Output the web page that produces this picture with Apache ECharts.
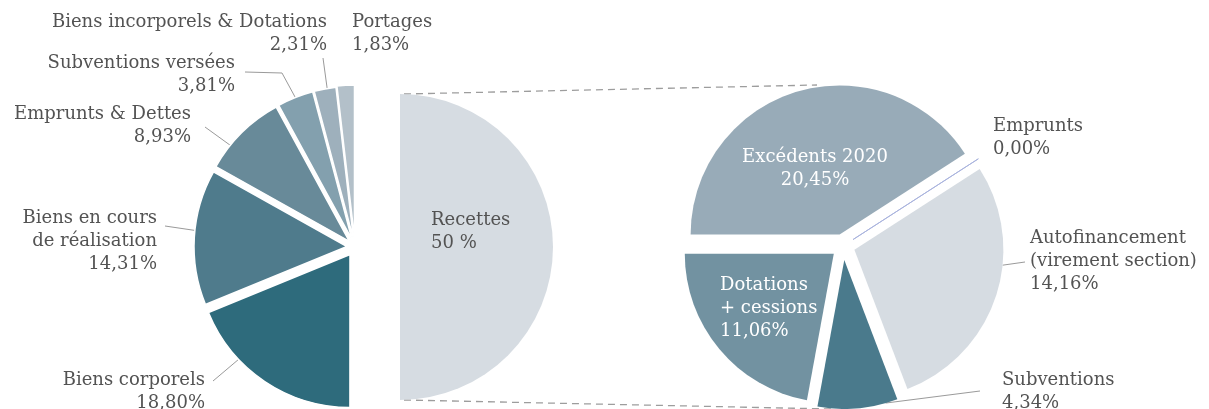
<!DOCTYPE html>
<html>
<head>
<meta charset="utf-8">
<script src="https://cdn.jsdelivr.net/npm/echarts@6/dist/echarts.min.js"></script>
<style>
  html, body { margin: 0; padding: 0; background: #fff; }
  #chart { width: 1209px; height: 409px; }
</style>
</head>
<body>
<div id="chart"></div>
<script>
// spending side (left pie), counter-clockwise from the top
const depenseNames = ['Portages', 'Biens incorporels & Dotations', 'Subventions versées', 'Emprunts & Dettes', 'Biens en cours\nde réalisation', 'Biens corporels'];
const depenseValues = [1.83, 2.31, 3.81, 8.93, 14.31, 18.80];

// the receipts half
const recetteLabel = 'Recettes';
const recetteShare = 50;

// receipts breakdown (right pie), clockwise from 9 o'clock
const detailNames = ['Excédents 2020', 'Emprunts', 'Autofinancement\n(virement section)', 'Subventions', 'Dotations\n+ cessions'];
const detailValues = [20.45, 0.00, 14.16, 4.34, 11.06];

const depenseColors = ['#b3c0c9', '#9eb0bc', '#83a0ae', '#688a99', '#4f7b8c', '#2e6b7c'];
const detailColors = ['#98abb8', '#aab4de', '#d6dce2', '#4a7a8c', '#7292a1'];

const FONT = 'DejaVu Serif';
const TEXT = '#535353';
const R = 153;
const LEFT_C = [355, 247];
const REC_C = [400, 247];
const RIGHT_C = [843, 246];
const RIGHT_R = 149;

const pct = v => v.toFixed(2).replace('.', ',') + '%';

// where each label sits; `at` = where along its slice's rim the leader starts
const labelSpots = {
  'Portages': { x: 352, y: 34, align: 'left' },
  'Biens incorporels & Dotations': { x: 327, y: 34, align: 'right', at: 0.4, end: [323, 58] },
  'Subventions versées': { x: 235, y: 75, align: 'right', at: 0.5, elbow: [282, 73], end: [245, 72] },
  'Emprunts & Dettes': { x: 191, y: 126, align: 'right', at: 0.7, end: [205, 127] },
  'Biens en cours\nde réalisation': { x: 157, y: 241, align: 'right', at: 0.45, end: [165, 226] },
  'Biens corporels': { x: 205, y: 392, align: 'right', at: 0.31, end: [213, 381] },
  'Recettes': { x: 431, y: 232, align: 'left' },
  'Excédents 2020': { x: 815, y: 169, align: 'center' },
  'Emprunts': { x: 993, y: 138, align: 'left' },
  'Autofinancement\n(virement section)': { x: 1030, y: 261, align: 'left', at: 0.38, end: [1025, 262] },
  'Subventions': { x: 1002, y: 392, align: 'left', at: 0.15, end: [980, 391] },
  'Dotations\n+ cessions': { x: 720, y: 308, align: 'left' }
};

function placeLabel(name, rim) {
  return function (p) {
    const spot = labelSpots[name];
    if (!spot) return {};
    const out = { x: spot.x, y: spot.y, align: spot.align, verticalAlign: 'middle' };
    if (spot.end && p.labelLinePoints) {
      const start = rim ? rim(spot.at) : p.labelLinePoints[0];
      out.labelLinePoints = spot.elbow ? [start, spot.elbow, spot.end] : [start, spot.end];
    }
    return out;
  };
}

const baseLabel = { fontFamily: FONT, fontSize: 18, lineHeight: 23, color: TEXT };
const leaderStyle = { color: '#9a9a9a', width: 1 };
const blank = {
  itemStyle: { color: 'transparent', borderWidth: 0 },
  label: { show: false }, labelLine: { show: false }
};

// one pie per slice, every other slice left transparent, so each slice
// can be pushed out from the centre along its own middle angle
function explodedPie(names, values, colors, o) {
  const total = values.reduce((a, b) => a + b, 0) + (o.rest || 0);
  const dir = o.clockwise ? -1 : 1;
  const a0 = o.startAngle * Math.PI / 180;
  let acc = 0;
  return names.map((name, i) => {
    const before = acc;
    acc += values[i];
    const a = a0 + dir * (before + values[i] / 2) / total * 2 * Math.PI;
    const off = o.offset[i];
    const c = [o.center[0] + off * Math.cos(a), o.center[1] - off * Math.sin(a)];
    const rim = t => {
      const ang = a0 + dir * (before + (t == null ? 0.5 : t) * values[i]) / total * 2 * Math.PI;
      return [c[0] + o.radius * Math.cos(ang), c[1] - o.radius * Math.sin(ang)];
    };
    const data = names.map((n, j) => j === i
      ? Object.assign({ name: n, value: values[j], itemStyle: Object.assign({ color: colors[j] }, o.border(j)) }, o.item(j))
      : Object.assign({ name: n, value: values[j] }, blank));
    if (o.rest) data.push(Object.assign({ name: '_rest', value: o.rest }, blank));
    return {
      type: 'pie',
      silent: true,
      center: c,
      radius: o.radius,
      startAngle: o.startAngle,
      clockwise: o.clockwise,
      avoidLabelOverlap: false,
      emphasis: { disabled: true },
      label: Object.assign({ formatter: p => p.name + '\n' + pct(p.value) }, baseLabel),
      labelLayout: placeLabel(name, rim),
      data: data
    };
  });
}

const leftSeries = explodedPie(depenseNames, depenseValues, depenseColors, {
  center: LEFT_C, radius: R, startAngle: 90, clockwise: false, rest: recetteShare,
  offset: [9, 8, 8, 8, 8, 9],
  border: () => ({ borderColor: '#fff', borderWidth: 1.5 }),
  item: j => ({ labelLine: { show: j > 0, lineStyle: leaderStyle } })
});

const rightSeries = explodedPie(detailNames, detailValues, detailColors, {
  center: RIGHT_C, radius: RIGHT_R, startAngle: 180, clockwise: true,
  offset: [12, 12, 12, 14, 12],
  border: j => (j === 1 ? { borderColor: detailColors[1], borderWidth: 1 } : { borderWidth: 0 }),
  item: j => {
    const inside = j === 0 || j === 4;
    return {
      label: inside ? { color: '#fff' } : {},
      labelLine: { show: !inside && j !== 1, lineStyle: leaderStyle }
    };
  }
});

const chart = echarts.init(document.getElementById('chart'));

chart.setOption({
  animation: false,
  backgroundColor: '#fff',
  graphic: [
    {
      type: 'line', z: -1,
      shape: { x1: REC_C[0] + 4, y1: REC_C[1] - R, x2: RIGHT_C[0] - 26, y2: RIGHT_C[1] - RIGHT_R - 12 },
      style: { stroke: '#9d9d9d', lineWidth: 1.3, lineDash: [7, 5] }
    },
    {
      type: 'line', z: -1,
      shape: { x1: REC_C[0] + 4, y1: REC_C[1] + R, x2: RIGHT_C[0] - 12, y2: RIGHT_C[1] + RIGHT_R + 14 },
      style: { stroke: '#9d9d9d', lineWidth: 1.3, lineDash: [7, 5] }
    }
  ],
  series: leftSeries.concat([
    {
      type: 'pie',
      silent: true,
      center: REC_C,
      radius: R,
      startAngle: 90,
      clockwise: true,
      avoidLabelOverlap: false,
      emphasis: { disabled: true },
      label: Object.assign({ position: 'inside', formatter: p => p.name + '\n' + p.value + ' %' }, baseLabel),
      labelLayout: placeLabel(recetteLabel),
      data: [
        { name: recetteLabel, value: recetteShare, itemStyle: { color: '#d6dce2' } },
        Object.assign({ name: '_rest', value: 100 - recetteShare }, blank)
      ]
    }
  ], rightSeries)
});
</script>
</body>
</html>
